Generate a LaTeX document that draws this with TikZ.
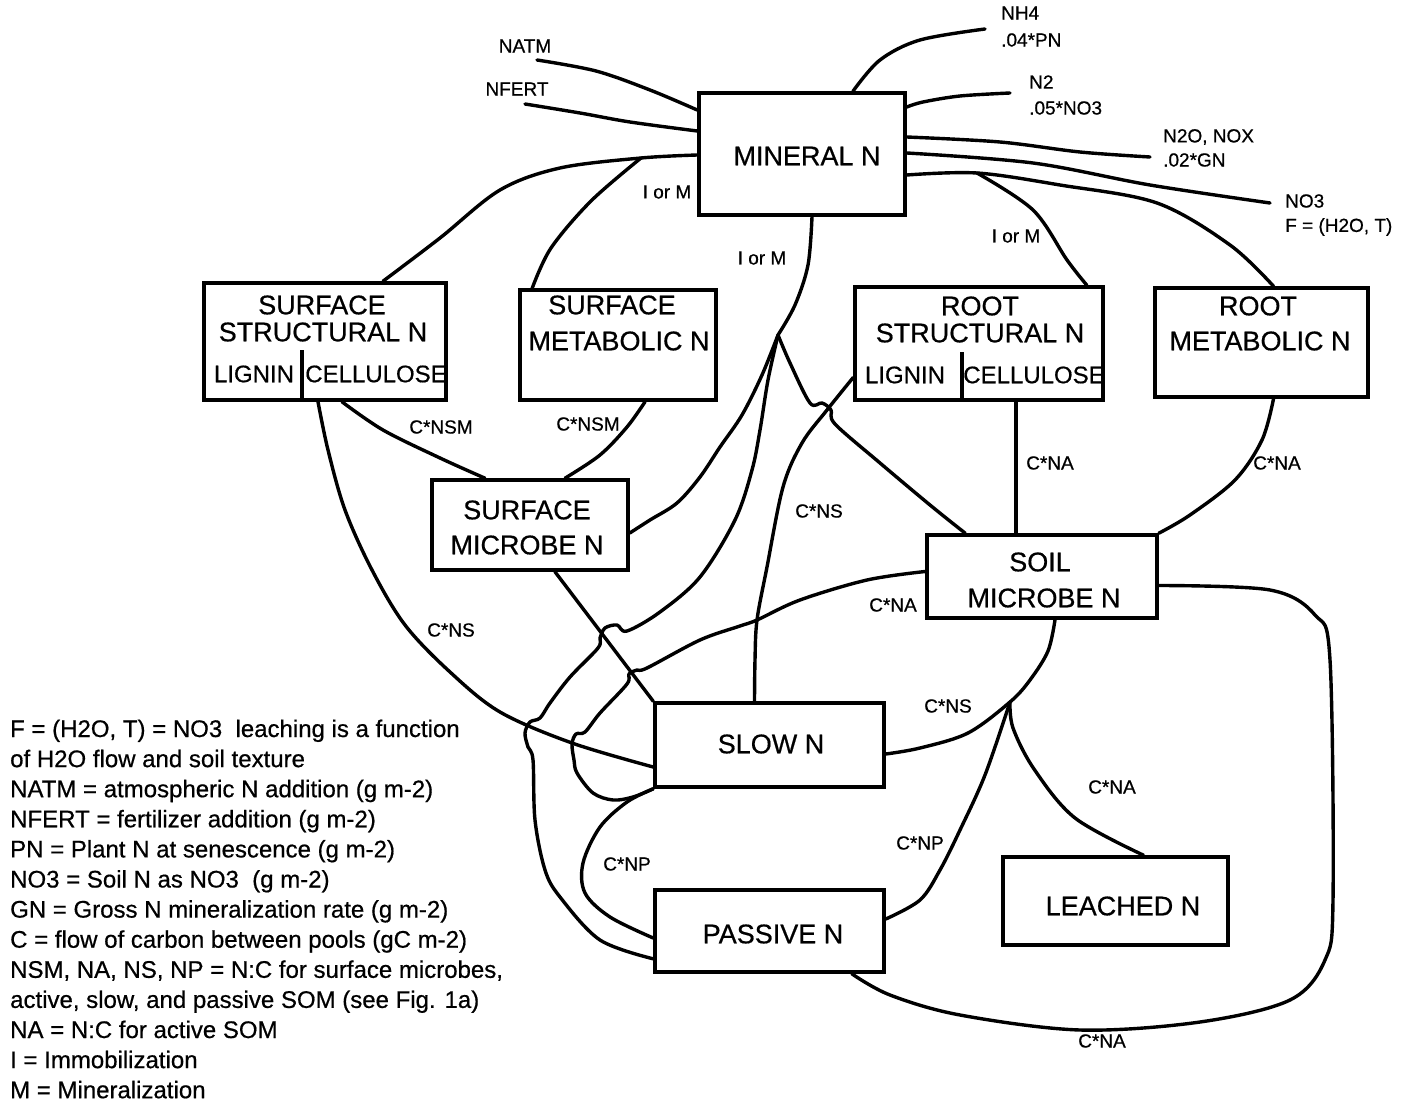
\documentclass[tikz,border=0pt]{standalone}
\usepackage{fontspec}
\setmainfont{Liberation Sans}[FakeBold=0.6]
\usetikzlibrary{calc}
\begin{document}
\begin{tikzpicture}[x=1pt,y=-1pt,
  box/.style={draw, line width=3.6pt, inner sep=0pt},
  con/.style={line width=3.4pt, line cap=round, line join=round},
  btxt/.style={font=\fontsize{27}{30}\selectfont, inner sep=0pt},
  stxt/.style={font=\fontsize{24}{28}\selectfont, inner sep=0pt},
  lab/.style={font=\fontsize{19}{22}\selectfont, inner sep=0pt},
  leg/.style={font=\fontsize{24}{28}\selectfont, inner sep=0pt, anchor=base west},
  sm/.style={smooth, tension=0.55}]
\useasboundingbox (0,0) rectangle (1413,1102);

% ---- boxes
\node[box, minimum width=206, minimum height=122] (min) at (802,154) {};
\node[box, minimum width=242, minimum height=117] (sst) at (325,341.5) {};
\node[box, minimum width=196, minimum height=110] (smt) at (618,345) {};
\node[box, minimum width=196, minimum height=90] (smi) at (530,525) {};
\node[box, minimum width=248, minimum height=113] (rst) at (979,343.5) {};
\node[box, minimum width=213, minimum height=109] (rmt) at (1261.5,342.5) {};
\node[box, minimum width=230, minimum height=83] (som) at (1042,576.5) {};
\node[box, minimum width=229, minimum height=84] (slo) at (769.5,745) {};
\node[box, minimum width=229, minimum height=82] (pas) at (769.5,931) {};
\node[box, minimum width=225, minimum height=88] (lea) at (1115.5,901) {};

\draw[box] ($(sst.south)+(-23,0)$) -- ++(0,-52);
\draw[box] ($(rst.south)+(-17,0)$) -- ++(0,-50);

% ---- box texts
\node[btxt] (tmin) at (807,156) {MINERAL N};
\node[btxt] (tsst1) at (322,305) {SURFACE};
\node[btxt] (tsst2) at (323,332) {STRUCTURAL N};
\node[stxt] (tsst3) at (254,374) {LIGNIN};
\node[stxt] (tsst4) at (376,374) {CELLULOSE};
\node[btxt] (tsmt1) at (612,305) {SURFACE};
\node[btxt] (tsmt2) at (619,341) {METABOLIC N};
\node[btxt] (tsmi1) at (527,510) {SURFACE};
\node[btxt] (tsmi2) at (527,545) {MICROBE N};
\node[btxt] (trst1) at (980,306) {ROOT};
\node[btxt] (trst2) at (980,333) {STRUCTURAL N};
\node[stxt] (trst3) at (905,375) {LIGNIN};
\node[stxt] (trst4) at (1034,375) {CELLULOSE};
\node[btxt] (trmt1) at (1258,306) {ROOT};
\node[btxt] (trmt2) at (1260,341) {METABOLIC N};
\node[btxt] (tsom1) at (1040,562) {SOIL};
\node[btxt] (tsom2) at (1044,598) {MICROBE N};
\node[btxt] (tslo) at (771,744) {SLOW N};
\node[btxt] (tpas) at (773,934) {PASSIVE N};
\node[btxt] (tlea) at (1123,906) {LEACHED N};

% ---- inputs / outputs of mineral N
\coordinate (natmE) at (537,60);
\coordinate (nfertE) at (525,104);
\draw[con] plot[sm] coordinates {(natmE) (596,71) (650,90) ($(min.west)+(0,-44)$)};
\draw[con] plot[sm] coordinates {(nfertE) (580,113) (630,122) ($(min.west)+(0,-23)$)};
\coordinate (nh4E) at (985,29);
\draw[con] plot[sm] coordinates {($(min.north)+(51,0)$) (880,60) (920,40) (nh4E)};
\coordinate (n2E) at (1010,93);
\draw[con] plot[sm] coordinates {($(min.east)+(0,-47)$) (923,102) (960,96) (n2E)};
\coordinate (n2oE) at (1150,157);
\draw[con] plot[sm] coordinates {($(min.east)+(0,-17)$) (1000,142) (1080,152) (n2oE)};
\coordinate (no3E) at (1270,203);
\draw[con] plot[sm] coordinates {($(min.east)+(0,-1)$) (1033,163) (1150,185) (no3E)};

% ---- to root pools
\coordinate (B2) at (977,173);
\draw[con] plot[sm] coordinates {($(min.east)+(0,21)$) (B2) (1060,185) (1157,203) (1230,245) ($(rmt.north)+(12,0)$)};
\draw[con] plot[sm] coordinates {(B2) (1033,210) (1067,260) ($(rst.north east)+(-18,0)$)};

% ---- to surface pools
\coordinate (B1) at (641,158);
\draw[con] plot[sm] coordinates {($(min.west)+(0,1)$) (B1) (560,168) (500,190) (440,238) ($(sst.north)+(58,0)$)};
\draw[con] plot[sm] coordinates {(B1) (591,201) (551,248) ($(smt.north west)+(14,0)$)};

% ---- mineral bottom to junction J
\coordinate (J) at (778,335);
\draw[con] plot[sm] coordinates {($(min.south)+(10,0)$) (808,265) (795,305) (J)};
\draw[con] plot[sm] coordinates {(J) (762,375) (742,415) (720,447) (700,477) (677,503) (650,520) ($(smi.east)+(0,8)$)};
\draw[con] plot[sm] coordinates {(J) (768,380) (760,430) (752,470) (735,520) (700,577) (660,612) (627,631) (617,625) (605,628) (600,638) (598,648) (570,677) (550,703) (540,718) (530,722) (525,733) (528,747) (533,760) (535,820) (545,870) (560,897) (600,940) ($(pas.south west)+(0,-15)$)};
\draw[con] plot[sm] coordinates {(J) (790,363) (810,403) (822,403) (831,410) (835,424) (880,463) (930,505) ($(som.north west)+(40,0)$)};

% ---- surface flows
\draw[con] ($(smi.south)+(25,0)$) -- (slo.north west);
\draw[con] plot[sm] coordinates {($(sst.south)+(-7,0)$) (328,450) (345,510) (372,570) (405,625) (450,672) (500,712) (572,743) ($(slo.west)+(0,22)$)};
\draw[con] plot[sm] coordinates {($(sst.south)+(17,0)$) (383,430) (440,458) ($(smi.north)+(-45,0)$)};
\draw[con] plot[sm] coordinates {($(smt.south)+(27,0)$) (627,427) (600,455) ($(smi.north)+(35,0)$)};

% ---- root flows
\draw[con] plot[sm] coordinates {($(rst.west)+(0,34)$) (827,410) (802,443) (783,487) (767,567) (757,620) (755,660) ($(slo.north)+(-15,0)$)};
\draw[con] ($(rst.south)+(37,0)$) -- ($(som.north)+(-26,0)$);
\draw[con] plot[sm] coordinates {($(rmt.south)+(12,0)$) (1262,440) (1235,480) (1190,515) (som.north east)};

% ---- soil microbe flows
\draw[con] plot[sm] coordinates {($(som.west)+(0,-5)$) (867,580) (800,600) (757,620) (740,626) (700,640) (647,668) (637,670) (629,674) (627,684) (600,713) (585,732) (576,734) (572,744) (574,760) (577,773) (593,793) (613,800) (633,797) (slo.south west)};
\draw[con] plot[sm] coordinates {(slo.south west) (627,802) (600,827) (583,863) (585,893) (610,917) ($(pas.west)+(0,7)$)};
\coordinate (K) at (1010,702);
\draw[con] plot[sm] coordinates {($(som.south)+(13,0)$) (1048,651) (1030,680) (K) (968,733) (920,748) ($(slo.east)+(0,9)$)};
\draw[con] plot[sm] coordinates {(K) (1013,728) (1034,769) (1075,818) ($(lea.north)+(28,0)$)};
\draw[con] plot[sm] coordinates {(K) (985,775) (960,830) (940,870) (920,900) ($(pas.east)+(0,-12)$)};
\draw[con] plot[sm] coordinates {($(som.east)+(0,9)$) (1270,590) (1315,615) (1330,660) (1333,900) (1325,960) (1290,1000) (1200,1022) (1080,1030) (960,1015) (890,995) ($(pas.south east)+(-34,0)$)};

% ---- flow labels
\node[lab] (lnatm) at (525,46) {NATM};
\node[lab] (lnfert) at (517,89) {NFERT};
\node[lab, anchor=west] (lnh4a) at (1001,13) {NH4};
\node[lab, anchor=west] (lnh4b) at (1001,40) {.04*PN};
\node[lab, anchor=west] (ln2a) at (1029,82) {N2};
\node[lab, anchor=west] (ln2b) at (1029,108) {.05*NO3};
\node[lab, anchor=west] (ln2oa) at (1163,137) {N2O, NOX};
\node[lab, anchor=west] (ln2ob) at (1163,160) {.02*GN};
\node[lab, anchor=west] (lno3a) at (1285,201) {NO3};
\node[lab, anchor=west] (lno3b) at (1285,227) {F = (H2O, T)};
\node[lab] (lim1) at (667,192) {I or M};
\node[lab] (lim2) at (762,258) {I or M};
\node[lab] (lim3) at (1016,236) {I or M};
\node[lab] (lc1) at (441,427) {C*NSM};
\node[lab] (lc2) at (588,424) {C*NSM};
\node[lab] (lc3) at (451,630) {C*NS};
\node[lab] (lc4) at (819,511) {C*NS};
\node[lab] (lc5) at (1050,463) {C*NA};
\node[lab] (lc6) at (1277,463) {C*NA};
\node[lab] (lc7) at (893,605) {C*NA};
\node[lab] (lc8) at (948,706) {C*NS};
\node[lab] (lc9) at (1112,787) {C*NA};
\node[lab] (lc10) at (920,843) {C*NP};
\node[lab] (lc11) at (627,864) {C*NP};
\node[lab] (lc12) at (1102,1041) {C*NA};

% ---- legend
\node[leg] (g1) at (10,737) {F = (H2O, T) = NO3\ \ leaching is a function};
\node[leg] (g2) at (10,767.1) {of H2O flow and soil texture};
\node[leg] (g3) at (10,797.2) {NATM = atmospheric N addition (g m-2)};
\node[leg] (g4) at (10,827.3) {NFERT = fertilizer addition (g m-2)};
\node[leg] (g5) at (10,857.4) {PN = Plant N at senescence (g m-2)};
\node[leg] (g6) at (10,887.5) {NO3 = Soil N as NO3\ \ (g m-2)};
\node[leg] (g7) at (10,917.6) {GN = Gross N mineralization rate (g m-2)};
\node[leg] (g8) at (10,947.7) {C = flow of carbon between pools (gC m-2)};
\node[leg] (g9) at (10,977.8) {NSM, NA, NS, NP = N:C for surface microbes,};
\node[leg] (g10) at (10,1007.9) {active, slow, and passive SOM (see Fig. 1a)};
\node[leg] (g11) at (10,1038) {NA = N:C for active SOM};
\node[leg] (g12) at (10,1068.1) {I = Immobilization};
\node[leg] (g13) at (10,1098.2) {M = Mineralization};
\end{tikzpicture}
\end{document}
